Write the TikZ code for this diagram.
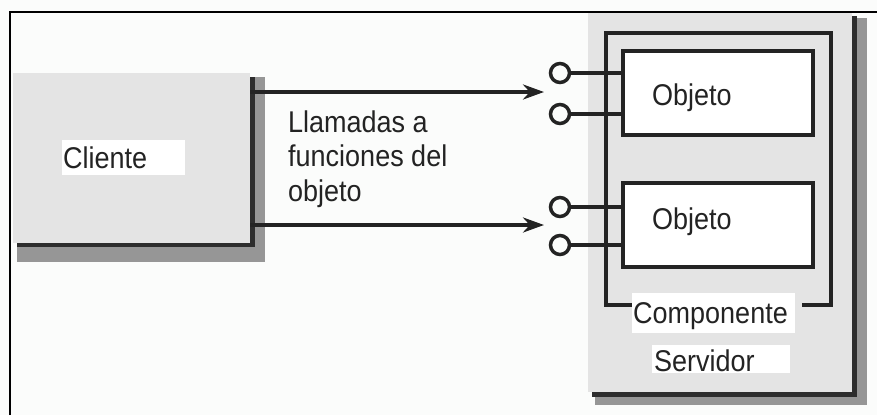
\documentclass[tikz,border=0pt]{standalone}
\usepackage{fontspec}
\setmainfont{Liberation Sans}[FakeStretch=0.9]
\usetikzlibrary{arrows.meta}
\definecolor{boxgray}{RGB}{228,228,228}
\definecolor{bg}{RGB}{251,252,251}
\definecolor{ink}{RGB}{35,35,35}
\definecolor{shadowdark}{RGB}{45,45,45}
\definecolor{shadowlight}{RGB}{150,150,150}
\begin{document}
\begin{tikzpicture}[x=1pt,y=-1pt,
  lbl/.style={font=\fontsize{30}{34.5}\selectfont, inner sep=0pt, anchor=base west, text=ink, align=left},
  panel/.style={inner sep=0pt, outer sep=0pt, anchor=north west, fill=boxgray},
  whitebox/.style={inner sep=0pt, outer sep=0pt, anchor=north west, fill=white},
  objbox/.style={inner sep=0pt, outer sep=0pt, anchor=north west, fill=white, draw=ink, line width=4.5pt},
  lolli/.style={circle, draw=ink, fill=bg, line width=3.5pt, minimum size=19pt, inner sep=0pt},
  stem/.style={draw=ink, line width=4pt},
  conn/.style={draw=ink, line width=4pt, -{Stealth[length=21pt,width=15pt]}}
]
\useasboundingbox (0,0) rectangle (877,415);
\fill[bg] (0,0) rectangle (877,415);

% client with shadow
\fill[shadowlight] (17,77) rectangle (265,262);
\fill[shadowdark] (17,77) rectangle (255,247);
\node[panel, minimum width=237pt, minimum height=170pt] (cliente) at (13,73) {};
\node[whitebox, minimum width=123pt, minimum height=35pt] (clientebox) at (62,140) {};
\node[lbl] (clientetxt) at (63,168) {Cliente};

% server with shadow
\fill[shadowlight] (595,18) rectangle (867,405);
\fill[shadowdark] (592,16) rectangle (857,397);
\node[panel, minimum width=264pt, minimum height=380pt] (servidor) at (588,12) {};
\node[whitebox, minimum width=138pt, minimum height=28pt] (servbox) at (652,345) {};
\node[lbl] (servtxt) at (654,371) {Servidor};

% component frame
\node[inner sep=0pt, outer sep=0pt, anchor=north west, minimum width=225pt, minimum height=272pt] (comp) at (606,33) {};
\draw[ink, line width=4.5pt, line join=miter]
  ([xshift=26pt]comp.south west) -- (comp.south west) -- (comp.north west)
  -- (comp.north east) -- (comp.south east) -- ([xshift=-29pt]comp.south east);
\node[whitebox, minimum width=163pt, minimum height=40pt] (compbox) at (632,293) {};
\node[lbl] (comptxt) at (633,323) {Componente};

% objects
\node[objbox, minimum width=190pt, minimum height=84pt] (obj1) at (623,51) {};
\node[lbl] (obj1txt) at (652,105) {Objeto};
\node[objbox, minimum width=190pt, minimum height=84pt] (obj2) at (623,183) {};
\node[lbl] (obj2txt) at (652,229) {Objeto};

% interfaces
\node[lolli] (i1) at (560,73) {};
\node[lolli] (i2) at (560,114) {};
\node[lolli] (i3) at (560,207) {};
\node[lolli] (i4) at (560,245) {};
\draw[stem] (i1.east) -- (i1.east -| obj1.west);
\draw[stem] (i2.east) -- (i2.east -| obj1.west);
\draw[stem] (i3.east) -- (i3.east -| obj2.west);
\draw[stem] (i4.east) -- (i4.east -| obj2.west);

% calls
\coordinate (a1) at (544,92);
\coordinate (a2) at (544,225);
\draw[conn] (cliente.east |- a1) -- (a1);
\draw[conn] (cliente.east |- a2) -- (a2);
\node[lbl] (calls) at (288,201) {Llamadas a\\funciones del\\objeto};

% outer frame
\draw[black, line width=2pt] (10,415) -- (10,12) -- (877,12);
\end{tikzpicture}
\end{document}
